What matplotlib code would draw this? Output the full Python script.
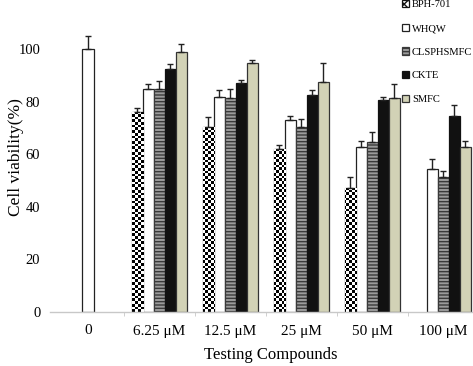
import numpy as np
import matplotlib
matplotlib.use("Agg")
import matplotlib.pyplot as plt
from matplotlib.patches import Patch

# ---- data ----
categories = ["0", "6.25 \u03bcM", "12.5 \u03bcM", "25 \u03bcM", "50 \u03bcM", "100 \u03bcM"]
series = ["BPH-701", "WHQW", "CLSPHSMFC", "CKTE", "SMFC"]
control_value = [100.0]
control_err = [5.0]
# values for concentrations 6.25, 12.5, 25, 50, 100 uM
bph701 = [76.0, 70.5, 62.0, 47.0, np.nan]
whqw = [84.7, 81.6, 73.0, 62.6, 54.2]
clsphsmfc = [84.7, 81.2, 70.5, 64.5, 51.2]
ckte = [92.4, 87.0, 82.5, 80.6, 74.5]
smfc = [99.0, 94.5, 87.3, 81.5, 62.6]
bph701_err = [1.5, 3.5, 1.5, 4.2, np.nan]
whqw_err = [1.8, 2.7, 1.5, 2.5, 3.8]
clsphsmfc_err = [3.0, 3.5, 3.0, 3.8, 2.5]
ckte_err = [1.8, 1.0, 1.8, 1.3, 4.0]
smfc_err = [3.0, 1.3, 7.5, 5.0, 2.4]
yticks = [0, 20, 40, 60, 80, 100]

values = [bph701, whqw, clsphsmfc, ckte, smfc]
errors = [bph701_err, whqw_err, clsphsmfc_err, ckte_err, smfc_err]

plt.rcParams['font.family'] = ['Liberation Serif', 'DejaVu Serif']
W, H = 473, 366
fig = plt.figure(figsize=(W / 100, H / 100), dpi=100)
ax_l, ax_r, ax_b, ax_t = 50, 473, 312, 0
ax = fig.add_axes([ax_l / W, 1 - ax_b / H, (ax_r - ax_l) / W, (ax_b - ax_t) / H])

bw = 0.155
x_conc = np.arange(1, len(categories))

styles = [
    dict(facecolor="white", edgecolor="#222222", linewidth=0.9),
    dict(facecolor="white", edgecolor="#222222", linewidth=0.9),
    dict(facecolor="#9b9b9b", edgecolor="#3a3a3a", linewidth=0.9, hatch="-----"),
    dict(facecolor="#111111", edgecolor="#111111", linewidth=0.9),
    dict(facecolor="#d2d2b6", edgecolor="#333333", linewidth=0.9),
]

# control bar
ax.bar([0], control_value, width=bw, facecolor="white", edgecolor="#222222", linewidth=0.9, zorder=2)
ax.errorbar([0], control_value, yerr=[[0], control_err], fmt="none", ecolor="#222222",
            elinewidth=1, capsize=2.5, capthick=1, zorder=3)

bar_containers = []
for k, (vals, errs, st) in enumerate(zip(values, errors, styles)):
    xs = x_conc + (k - 2) * bw
    bc = ax.bar(xs, vals, width=bw, zorder=2, **st)
    bar_containers.append(bc)
    v = np.array(vals, dtype=float)
    e = np.array(errs, dtype=float)
    m = ~np.isnan(v)
    ax.errorbar(xs[m], v[m], yerr=[np.zeros(m.sum()), e[m]], fmt="none", ecolor="#222222",
                elinewidth=1, capsize=2.5, capthick=1, zorder=3)

ax.set_xlim(-0.535, 5.42)
ax.set_ylim(0, 118.6)

# checkerboard fill for BPH-701 bars
cell = 2.7
cols = int((ax_r - ax_l) / cell)
rows = int((ax_b - ax_t) / cell)
checker = (np.add.outer(np.arange(rows), np.arange(cols)) % 2).astype(float)
for patch in bar_containers[0].patches:
    if np.isnan(patch.get_height()):
        continue
    im = ax.imshow(checker, cmap="gray", vmin=0, vmax=1, interpolation="nearest",
                   extent=[0, 1, 0, 1], transform=ax.transAxes, aspect="auto", zorder=2.1)
    im.set_clip_path(patch)
ax.set_xlim(-0.535, 5.42)
ax.set_ylim(0, 118.6)

# axes styling
for s in ["top", "right", "left"]:
    ax.spines[s].set_visible(False)
ax.spines["bottom"].set_color("#c8c8c8")
ax.spines["bottom"].set_linewidth(1.0)
ax.set_xticks(range(len(categories)))
ax.set_xticklabels(categories, fontsize=11)
ax.set_xticks(np.arange(0.5, len(categories) - 1, 1), minor=True)
ax.tick_params(axis="x", which="major", length=0, pad=9)
ax.tick_params(axis="x", which="minor", length=3, color="#c8c8c8")
ax.set_yticks(yticks)
ax.set_yticklabels([str(t) for t in yticks], fontsize=10.5)
ax.tick_params(axis="y", length=0, pad=7)

ax.set_ylabel("Cell viability(%)", fontsize=12.5)
ax.yaxis.set_label_coords((16 - ax_l) / (ax_r - ax_l), 0.495)
ax.set_xlabel("Testing Compounds", fontsize=12)
ax.xaxis.set_label_coords((271 - ax_l) / (ax_r - ax_l), (ax_b - 355) / (ax_b - ax_t))
ax.xaxis.label.set_va("center")
ax.yaxis.label.set_va("center")

# legend
handles = [
    Patch(facecolor="white", edgecolor="#111111", hatch="xxxx", linewidth=0.9),
    Patch(**styles[1]),
    Patch(**styles[2]),
    Patch(**styles[3]),
    Patch(**styles[4]),
]
leg = fig.legend(handles, series, loc="upper left", bbox_to_anchor=(402 / W, 1.0),
                 frameon=False, fontsize=7.6, handlelength=0.7, handleheight=0.7,
                 handletextpad=0.25, labelspacing=1.35, borderaxespad=0, borderpad=0)

fig.savefig("out.png", dpi=100)
